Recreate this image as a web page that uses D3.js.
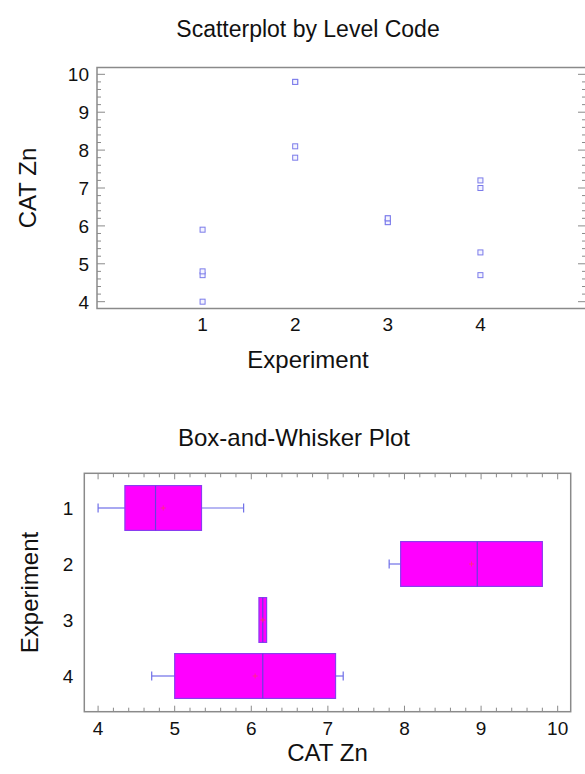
<!DOCTYPE html>
<html>
<head>
<meta charset="utf-8">
<script src="https://cdn.jsdelivr.net/npm/d3@7"></script>
<style>
  html, body { margin: 0; padding: 0; background: #ffffff; }
  svg { display: block; font-family: "Liberation Sans", Arial, sans-serif; }
</style>
</head>
<body>
<svg id="chart" width="585" height="774"></svg>
<script>
// Experiment levels and CAT Zn readings per level
const experiments = [1, 2, 3, 4];
const catZn1 = [4.0, 4.7, 4.8, 5.9];
const catZn2 = [7.8, 8.1, 9.8, 9.8];
const catZn3 = [6.1, 6.1, 6.2, 6.2];
const catZn4 = [4.7, 5.3, 7.0, 7.2];
const catZnByExperiment = [catZn1, catZn2, catZn3, catZn4];

// Axis tick labels
const scatterYTicks = [4, 5, 6, 7, 8, 9, 10];
const scatterXTicks = [1, 2, 3, 4];
const boxXTicks = [4, 5, 6, 7, 8, 9, 10];

const svg = d3.select("#chart");
const frameColor = "#8a8a8a";
const pointColor = "#7b7bea";
const textColor = "#111";

// ---------- Scatterplot by Level Code ----------
const sc = { left: 97, right: 586, top: 67.5, bottom: 308.5 };
const sx = d3.scaleLinear().domain([-0.14, 5.14]).range([sc.left, sc.right]);
const sy = d3.scaleLinear().domain([3.82, 10.18]).range([sc.bottom, sc.top]);

svg.append("text")
  .attr("x", 308).attr("y", 37)
  .attr("text-anchor", "middle")
  .attr("font-size", 23)
  .attr("fill", textColor)
  .text("Scatterplot by Level Code");

const scatter = svg.append("g");

// minor/major ticks on the left and right edges, pointing inward
const yMinor = d3.range(40, 101, 2).map(v => v / 10);
scatter.selectAll("line.ytick")
  .data(yMinor)
  .join("line")
  .attr("x1", sc.left)
  .attr("x2", d => sc.left + (Number.isInteger(d) ? 8 : 4))
  .attr("y1", d => sy(d)).attr("y2", d => sy(d))
  .attr("stroke", frameColor).attr("stroke-width", 1);
scatter.selectAll("line.ytickr")
  .data(yMinor)
  .join("line")
  .attr("x1", sc.right)
  .attr("x2", d => sc.right - (Number.isInteger(d) ? 8 : 4))
  .attr("y1", d => sy(d)).attr("y2", d => sy(d))
  .attr("stroke", frameColor).attr("stroke-width", 1);

scatter.append("rect")
  .attr("x", sc.left).attr("y", sc.top)
  .attr("width", sc.right - sc.left).attr("height", sc.bottom - sc.top)
  .attr("fill", "none").attr("stroke", frameColor).attr("stroke-width", 1.5);

scatter.selectAll("text.ylab")
  .data(scatterYTicks)
  .join("text")
  .attr("x", sc.left - 8)
  .attr("y", d => sy(d) + 7)
  .attr("text-anchor", "end")
  .attr("font-size", 19)
  .attr("fill", textColor)
  .text(d => d);

scatter.selectAll("text.xlab")
  .data(scatterXTicks)
  .join("text")
  .attr("x", d => sx(d))
  .attr("y", sc.bottom + 22)
  .attr("text-anchor", "middle")
  .attr("font-size", 19)
  .attr("fill", textColor)
  .text(d => d);

// data points as small open squares
const points = experiments.flatMap((e, i) => catZnByExperiment[i].map(v => ({ e, v })));
scatter.selectAll("rect.pt")
  .data(points)
  .join("rect")
  .attr("x", d => sx(d.e) - 2.5)
  .attr("y", d => sy(d.v) - 2.5)
  .attr("width", 5).attr("height", 5)
  .attr("fill", "#f4f4ff")
  .attr("stroke", pointColor).attr("stroke-width", 1);

svg.append("text")
  .attr("x", 308).attr("y", 368)
  .attr("text-anchor", "middle")
  .attr("font-size", 24)
  .attr("fill", textColor)
  .text("Experiment");

svg.append("text")
  .attr("transform", `translate(36, ${(sc.top + sc.bottom) / 2}) rotate(-90)`)
  .attr("text-anchor", "middle")
  .attr("font-size", 24)
  .attr("fill", textColor)
  .text("CAT Zn");

// ---------- Box-and-Whisker Plot ----------
const bp = { left: 84.3, right: 570.7, top: 473.3, bottom: 711.7 };
const bx = d3.scaleLinear().domain([3.82, 10.17]).range([bp.left, bp.right]);
const by = d3.scaleBand().domain(experiments).range([480, 704])
  .paddingInner(0.2).paddingOuter(0.1);

svg.append("text")
  .attr("x", 294).attr("y", 446)
  .attr("text-anchor", "middle")
  .attr("font-size", 24)
  .attr("fill", textColor)
  .text("Box-and-Whisker Plot");

const box = svg.append("g");

const xMinor = d3.range(40, 101, 2).map(v => v / 10);
box.selectAll("line.tt")
  .data(xMinor)
  .join("line")
  .attr("x1", d => bx(d)).attr("x2", d => bx(d))
  .attr("y1", bp.top).attr("y2", d => bp.top + (Number.isInteger(d) ? 6 : 4))
  .attr("stroke", frameColor).attr("stroke-width", 1);
box.selectAll("line.bt")
  .data(xMinor)
  .join("line")
  .attr("x1", d => bx(d)).attr("x2", d => bx(d))
  .attr("y1", bp.bottom).attr("y2", d => bp.bottom - (Number.isInteger(d) ? 6 : 4))
  .attr("stroke", frameColor).attr("stroke-width", 1);

box.append("rect")
  .attr("x", bp.left).attr("y", bp.top)
  .attr("width", bp.right - bp.left).attr("height", bp.bottom - bp.top)
  .attr("fill", "none").attr("stroke", frameColor).attr("stroke-width", 1.5);

// five-number summary using Tukey hinges
function summary(values) {
  const s = values.slice().sort(d3.ascending);
  const n = s.length;
  const lower = s.slice(0, Math.ceil(n / 2));
  const upper = s.slice(Math.floor(n / 2));
  return {
    min: s[0], q1: d3.median(lower), med: d3.median(s),
    q3: d3.median(upper), max: s[n - 1], mean: d3.mean(s)
  };
}
const stats = experiments.map((e, i) => ({ e, ...summary(catZnByExperiment[i]) }));

const bw = by.bandwidth();
const whiskerColor = "#6f6fe8";
const g = box.selectAll("g.item").data(stats).join("g")
  .attr("transform", d => `translate(0, ${by(d.e) + bw / 2})`);

g.append("line")
  .attr("x1", d => bx(d.min)).attr("x2", d => bx(d.q1))
  .attr("stroke", whiskerColor).attr("stroke-width", 1.2);
g.append("line")
  .attr("x1", d => bx(d.q3)).attr("x2", d => bx(d.max))
  .attr("stroke", whiskerColor).attr("stroke-width", 1.2);
g.filter(d => d.min < d.q1).append("line")
  .attr("x1", d => bx(d.min)).attr("x2", d => bx(d.min))
  .attr("y1", -4.5).attr("y2", 4.5)
  .attr("stroke", whiskerColor).attr("stroke-width", 1.2);
g.filter(d => d.max > d.q3).append("line")
  .attr("x1", d => bx(d.max)).attr("x2", d => bx(d.max))
  .attr("y1", -4.5).attr("y2", 4.5)
  .attr("stroke", whiskerColor).attr("stroke-width", 1.2);

g.append("rect")
  .attr("x", d => bx(d.q1)).attr("y", -bw / 2)
  .attr("width", d => bx(d.q3) - bx(d.q1)).attr("height", bw)
  .attr("fill", "#ff00ff")
  .attr("stroke", "#8a3cf0").attr("stroke-width", 1.2);

g.append("line")
  .attr("x1", d => bx(d.med)).attr("x2", d => bx(d.med))
  .attr("y1", -bw / 2).attr("y2", bw / 2)
  .attr("stroke", "#6a3ce0").attr("stroke-width", 1.2);

// mean marker
g.append("path")
  .attr("d", d => `M${bx(d.mean) - 2.5},0H${bx(d.mean) + 2.5}M${bx(d.mean)},-2.5V2.5`)
  .attr("stroke", "#ff3070").attr("stroke-width", 1).attr("opacity", 0.8);

box.selectAll("text.ylab")
  .data(experiments)
  .join("text")
  .attr("x", bp.left - 11)
  .attr("y", d => by(d) + bw / 2 + 7)
  .attr("text-anchor", "end")
  .attr("font-size", 19)
  .attr("fill", textColor)
  .text(d => d);

box.selectAll("text.xlab")
  .data(boxXTicks)
  .join("text")
  .attr("x", d => bx(d))
  .attr("y", bp.bottom + 23)
  .attr("text-anchor", "middle")
  .attr("font-size", 19)
  .attr("fill", textColor)
  .text(d => d);

svg.append("text")
  .attr("x", (bp.left + bp.right) / 2).attr("y", 761)
  .attr("text-anchor", "middle")
  .attr("font-size", 24)
  .attr("fill", textColor)
  .text("CAT Zn");

svg.append("text")
  .attr("transform", `translate(38, ${(bp.top + bp.bottom) / 2}) rotate(-90)`)
  .attr("text-anchor", "middle")
  .attr("font-size", 24)
  .attr("fill", textColor)
  .text("Experiment");
</script>
</body>
</html>
